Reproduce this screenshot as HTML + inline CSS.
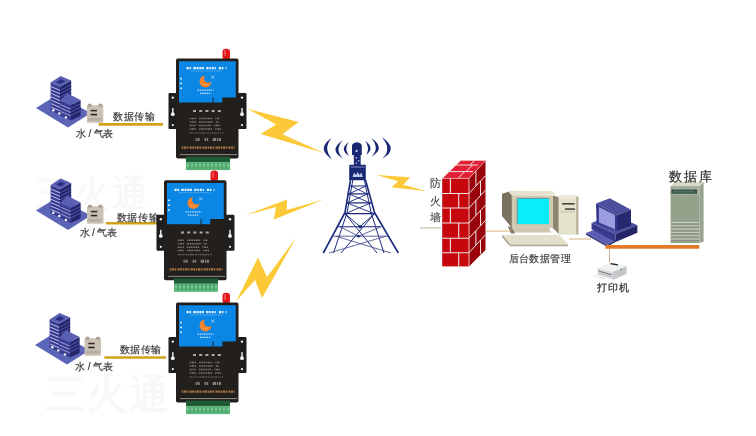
<!DOCTYPE html>
<html><head><meta charset="utf-8">
<style>
html,body{margin:0;padding:0;background:#fff;width:756px;height:436px;overflow:hidden}
svg{display:block;position:absolute;left:0;top:0;filter:blur(0.3px)}
.t{font-family:"Liberation Sans",sans-serif;fill:#3a3a3a}
.s{font-family:"Liberation Serif",serif;fill:#222}
</style></head><body>
<svg width="756" height="436" viewBox="0 0 756 436">
<defs>
  <g id="router">
    <rect x="46.5" y="-9.8" width="7.5" height="11" rx="3.3" fill="#e3161c"/>
    <rect x="48" y="-8.5" width="2" height="6" rx="1" fill="#ff7070" opacity="0.6"/>
    <rect x="-7.5" y="34.5" width="10" height="36" rx="1.2" fill="#1e1e1e"/>
    <rect x="60.5" y="34.5" width="10" height="36" rx="1.2" fill="#1e1e1e"/>
    <g fill="#f4f4f4">
      <circle cx="-3.2" cy="39" r="1.2"/>
      <rect x="-3.9" y="49.5" width="1.4" height="5"/>
      <circle cx="-3.2" cy="55.6" r="1.9"/>
      <circle cx="-3.2" cy="66.5" r="1.1"/>
      <circle cx="66" cy="39" r="1.2"/>
      <rect x="65.3" y="49.5" width="1.4" height="5"/>
      <circle cx="66" cy="55.6" r="1.9"/>
      <circle cx="66" cy="66.5" r="1.1"/>
    </g>
    <rect x="0" y="0" width="62.5" height="100" rx="1.8" fill="#221f1c"/>
    <path d="M3,2.7 H59.8 V38.8 H46.3 V44 H37.6 V39 H36.6 V44 H3 Z" fill="#0a86e4"/>
    <g stroke="#e8f4ff" fill="none">
      <path d="M10.5,9.6 H50.5" stroke-width="2.2" stroke-dasharray="2.2,0.8,1.6,2.2,2.5,0.7,2,0.8,2.2,0.6,1.8,2.4,2.2,0.8,1.6,0.9,2,0.8,1.2,3"/>
      <path d="M15,12.4 H46" stroke-width="0.7" stroke-dasharray="1.5,0.8" opacity="0.6"/>
      <path d="M21.5,31.6 H37.5" stroke-width="1.3" stroke-dasharray="1.4,0.8" opacity="0.85"/>
      <path d="M24,34.8 H35" stroke-width="1.3" stroke-dasharray="1.4,0.8" opacity="0.85"/>
    </g>
    <circle cx="29.5" cy="22.8" r="6" fill="#f5822a"/>
    <circle cx="32.6" cy="19.6" r="4.5" fill="#0a86e4"/>
    <path d="M25,24 q3,4 7,1" stroke="#f9b070" stroke-width="0.8" fill="none" opacity="0.8"/>
    <path d="M35,17 l3.5,3 M38.5,17 l-3.5,3" stroke="#cfe6ff" stroke-width="0.6"/>
    <rect x="4.2" y="19.2" width="1.6" height="1.6" fill="#fff"/>
    <rect x="4.2" y="24" width="1.6" height="1.6" fill="#fff"/>
    <rect x="4.2" y="28.9" width="1.6" height="1.6" fill="#fff"/>
    <g stroke="#e6e6e6" fill="none">
      <path d="M17,52.3 H46" stroke-width="2" stroke-dasharray="3,3.2" opacity="0.7"/>
      <path d="M13.7,60 H44" stroke-width="1.5" stroke-dasharray="1.2,0.6,2.5,0.6,1.5,3,1.2,0.6,2,0.6,1.5,0.8" opacity="0.42"/>
      <path d="M13.7,63.4 H43" stroke-width="1.5" stroke-dasharray="1.2,0.6,2.5,0.6,1.5,3,1.8,0.6,2,0.6,1.5,0.8" opacity="0.42"/>
      <path d="M13.7,66.9 H44" stroke-width="1.5" stroke-dasharray="2,0.6,1.2,0.6,1.5,3,1.2,0.6,2,0.6,1.5,0.8" opacity="0.42"/>
      <path d="M13.7,70.3 H45" stroke-width="1.5" stroke-dasharray="1.2,0.6,2.5,0.6,1.5,3,1.2,0.6,2,0.6,1.5,0.8" opacity="0.42"/>
      <path d="M13.7,74.4 H48" stroke-width="1.2" stroke-dasharray="3,0.6,1.2,0.6,1.5,1,1.2,0.6,2,0.6" opacity="0.35"/>
      <path d="M19.5,81 H45" stroke-width="3" stroke-dasharray="1.2,0.7,2.2,5,1.5,0.6,1.5,4.5,3.5,0.8" opacity="0.5"/>
    </g>
    <path d="M5.7,89 H58.6" stroke="#c0844a" stroke-width="2.2" stroke-dasharray="1.5,0.6,2.5,0.6,1.4,1.2,2.2,0.5,1.8,0.7" opacity="0.85"/>
    <rect x="4" y="95.6" width="57" height="0.9" fill="#9a9a9a"/>
    <rect x="10" y="98" width="44" height="5.5" fill="#1f5a36"/>
    <rect x="10" y="103.5" width="44" height="8" fill="#5db77a"/>
    <path d="M14,104v7 M18,104v7 M22,104v7 M26,104v7 M30,104v7 M34,104v7 M38,104v7 M42,104v7 M46,104v7 M50,104v7" stroke="#3c8a58" stroke-width="0.7"/>
    <path d="M11,106.5 H53" stroke="#c8f0d8" stroke-width="0.8" stroke-dasharray="2,2" opacity="0.8"/>
  </g>
  <g id="bld">
    <polygon points="36,108 57,95 87,111 87,115.5 68,127.5" fill="#5c64b8"/>
    <!-- tall tower -->
    <polygon points="50.6,82.6 60,86.6 60,115 50.6,110.6" fill="#383c90"/>
    <polygon points="60,86.6 71.2,80.6 71.2,95 60,101" fill="#23266c"/>
    <polygon points="50.6,82.6 60.6,76 71.2,80.6 60,86.6" fill="#5a60b4"/>
    <polygon points="56,82.2 60.7,79 65.5,81.2 60.7,84" fill="#2c3080"/>
    <path d="M51,86.6 L60,90.4 M51,90 L60,93.8 M51,93.4 L60,97.2 M51,96.8 L60,100.6 M51,100.2 L60,104 M51,103.6 L60,107.4 M51,107 L60,110.8" stroke="#cdd0f2" stroke-width="0.9"/>
    <path d="M60.3,90.3 L71,84.6 M60.3,93.7 L71,88 M60.3,97.1 L71,91.4" stroke="#5d62b0" stroke-width="0.8"/>
    <!-- lower block -->
    <polygon points="60,100.6 70.6,105.3 70.6,120.5 60,115.5" fill="#3a3e92"/>
    <polygon points="70.6,105.3 80.6,100 80.6,116 70.6,120.5" fill="#23266c"/>
    <polygon points="60,100.6 67.3,93.3 80.6,100 70.6,105.3" fill="#5a60b4"/>
    <path d="M60.5,104.6 L70.5,109 M60.5,108 L70.5,112.4 M60.5,111.4 L70.5,115.8" stroke="#b4b8e8" stroke-width="0.8"/>
    <path d="M71,108.6 L80.3,103.7 M71,112 L80.3,107.1 M71,115.4 L80.3,110.5" stroke="#5d62b0" stroke-width="0.8"/>
    <circle cx="53.3" cy="110.3" r="1.2" fill="#fff"/>
    <circle cx="59.3" cy="113.4" r="1.2" fill="#fff"/>
    <circle cx="65.9" cy="117.4" r="1.2" fill="#fff"/>
  </g>
  <g id="meter">
    <rect x="0" y="1.5" width="16.5" height="17.5" rx="1" fill="#cbc2b4"/>
    <rect x="1" y="0" width="4" height="3" rx="1.2" fill="#a9a196"/>
    <rect x="11.5" y="0" width="4" height="3" rx="1.2" fill="#a9a196"/>
    <rect x="3.8" y="6" width="6.4" height="1.6" fill="#3a2c2a"/>
    <rect x="3.8" y="10" width="6.4" height="1.6" fill="#2a2424"/>
    <rect x="1.5" y="14" width="13" height="3" fill="#b6ada2"/>
  </g>
</defs>

<!-- faint watermark -->
<g font-family="Liberation Sans, sans-serif" font-weight="bold" fill="#f8f8f8">
  <text x="36" y="206" font-size="36" letter-spacing="2">三火通</text>
  <text x="45" y="408" font-size="40" letter-spacing="2">三火通</text>
</g>

<!-- buildings -->
<use href="#bld"/>
<use href="#bld" transform="translate(0,102.5)"/>
<use href="#bld" transform="translate(-1,237)"/>

<!-- meters -->
<use href="#meter" transform="translate(86.8,103.8)"/>
<use href="#meter" transform="translate(87,204.8)"/>
<use href="#meter" transform="translate(84.5,336.7)"/>

<!-- data lines -->
<g stroke="#d4a018" stroke-width="2.6">
  <line x1="98.6" y1="124.4" x2="163" y2="124.4"/>
  <line x1="105.9" y1="223.2" x2="160" y2="223.2"/>
  <line x1="104.4" y1="357.5" x2="166" y2="357.5"/>
</g>

<g class="t" font-size="10" font-weight="400" fill="#3a3a3a" stroke="#3a3a3a" stroke-width="0.18">
  <text x="112.9" y="119.8" letter-spacing="0.8">数据传输</text>
  <text x="116.6" y="220.5" letter-spacing="0.8">数据传输</text>
  <text x="119.6" y="353" letter-spacing="0.6">数据传输</text>
  <text x="76" y="137" letter-spacing="-0.2">水 / 气表</text>
  <text x="79.7" y="235.5" letter-spacing="-0.2">水 / 气表</text>
  <text x="75.3" y="369.7" letter-spacing="-0.2">水 / 气表</text>
</g>

<!-- routers -->
<use href="#router" transform="translate(176,58.6)"/>
<use href="#router" transform="translate(164,180.3)"/>
<use href="#router" transform="translate(176,302.6)"/>

<!-- bolts -->
<g fill="#fcc938">
  <polygon points="247.5,108.8 298.6,122 282.5,134.2 324,153 260.6,134 276,124.6"/>
  <polygon points="244.7,215.3 287.1,199.6 286.6,210 323.8,199.6 273.8,219.4 276.1,207.1"/>
  <polygon points="236,301.5 258,257.5 267,277 296,238 262,298 255,280"/>
  <polygon points="376.5,175 410.1,177.3 403.3,184.7 427,191.2 391.4,187.2 398.2,181.3"/>
</g>

<!-- tower -->
<g fill="#172574">
  <path d="M331.7,138.1 Q315.5,148.8 332.4,159.5 Q322.35,148.8 331.7,138.1 Z"/>
  <path d="M342.7,140.2 Q328.15,150.3 343,158.4 Q334.15,150.3 342.7,140.2 Z"/>
  <path d="M348.6,142.3 Q338.85,149.05 348.9,156 Q343.85,149.05 348.6,142.3 Z"/>
  <path d="M365.3,140.9 Q375.15,147.8 366.4,154.7 Q370.15,147.8 365.3,140.9 Z"/>
  <path d="M371.2,138.1 Q386.25,148.2 371.5,156.7 Q380.25,148.2 371.2,138.1 Z"/>
  <path d="M381.5,137.1 Q399.6,149.25 382.5,158.4 Q392.6,149.25 381.5,137.1 Z"/>
</g>
<g stroke="#1c2a7c" fill="none" stroke-linejoin="round">
  <path d="M350.5,180 L345,212.5 L323.3,253" stroke-width="1.6"/>
  <path d="M365.5,180 L374.5,212.5 L398.3,253" stroke-width="1.6"/>
  <path d="M352.8,180 L347.1,212.5 L333.5,253" stroke-width="1"/>
  <path d="M364.4,180 L371,212.5 L384,253" stroke-width="1"/>
  <path d="M349,186 H367 M347.5,193.9 H369 M346,202.9 H371.5 M344.5,213.6 H375 M338,226.7 H381" stroke-width="1.1"/>
  <path d="M333,236.2 H388" stroke-width="0.8" stroke="#3a4488"/>
  <path d="M351,186 L367,193.9 M366,186 L349,193.9 M349,193.9 L370,202.9 M368,193.9 L347,202.9 M347,202.9 L374,213.6 M371,202.9 L345.5,213.6" stroke-width="0.9"/>
  <path d="M345,213.6 L377,253 M374.5,213.6 L341,253 M345,213.6 L360,226.7 L374.5,213.6" stroke-width="1"/>
  <path d="M340,226.7 L358.5,236.2 L381,226.7 M336,236.2 L391,253 M386,236.2 L329,253" stroke-width="0.8" stroke="#3a4488"/>
</g>
<g fill="#1a2874">
  <path d="M352,146 Q352,142.8 356.9,142.3 Q361.8,142.8 361.8,146 V154.9 H352 Z"/>
  <rect x="353.8" y="154.5" width="6.9" height="10.5"/>
  <rect x="349.2" y="164.7" width="16.6" height="15.5" rx="1"/>
  <circle cx="360.2" cy="226.7" r="1.8"/>
  <circle cx="358.5" cy="236.2" r="1.3"/>
</g>
<g fill="#c8d0f0">
  <circle cx="356.6" cy="150.9" r="1.1"/>
  <rect x="355.5" y="157" width="1.5" height="1.5" opacity="0.8"/>
  <rect x="357.8" y="160" width="1.5" height="1.5" opacity="0.8"/>
  <rect x="355.5" y="162.5" width="1.5" height="1.5" opacity="0.8"/>
  <rect x="350.5" y="166.5" width="14" height="1" opacity="0.6"/>
  <path d="M352.5,177 l1.5,-4.5 l2,2.5 l1.7,-3 l1.7,3 l2,-2.5 l1.5,4.5 Z" opacity="0.95"/>
</g>

<!-- firewall -->
<g>
  <polygon points="442.2,178.4 469,178.4 485.5,160.5 460.8,160.5" fill="#e21f35"/>
  <polygon points="469,178.4 485.5,160.5 485.5,249.9 469,266.4" fill="#98040a"/>
  <rect x="442.2" y="178.4" width="26.8" height="88" fill="#c6080e"/>
  <g stroke="#ece4e2" stroke-width="1.1" fill="none">
    <path d="M442.2,193.5 H469 M442.2,208.0 H469 M442.2,223.0 H469 M442.2,238.2 H469 M442.2,252.7 H469 M450.4,178.4 V193.5 M458.7,193.5 V208.0 M450.4,208.0 V223.0 M458.7,223.0 V238.2 M450.4,238.2 V252.7 M458.7,252.7 V266.4 "/>
    <path d="M469,193.5 L485.5,175.6 M469,208.0 L485.5,190.1 M469,223.0 L485.5,205.1 M469,238.2 L485.5,220.3 M469,252.7 L485.5,234.8 M475.9,170.9 V186.0 M480.5,181.0 V195.5 M475.9,200.5 V215.5 M480.5,210.5 V225.7 M475.9,230.7 V245.2 M480.5,240.2 V253.9 " stroke-width="1"/>
    <path d="M448.5,171.6 L473,171.6 M455,165 L478,165 M458,178.4 L464.5,171.6 M466,171.6 L472.5,165 M470,165 L474.5,160.5" stroke-width="1"/>
    <path d="M469,178.4 V266.4" stroke="#f4d0d0" stroke-width="0.9"/>
    <path d="M442.2,178.4 L460.8,160.5 H485.5 L469,178.4 H442.2" stroke="#f0c8c8" stroke-width="0.7"/>
  </g>
</g>
<g class="t" font-size="10" font-weight="400" fill="#444" stroke="#444" stroke-width="0.12">
  <text x="429.6" y="186.6" font-size="10.6">防</text>
  <text x="429.6" y="205.2" font-size="10.6">火</text>
  <text x="429.6" y="221" font-size="10.6">墙</text>
</g>
<line x1="420" y1="227.9" x2="441" y2="227.9" stroke="#b8a890" stroke-width="0.9"/>

<!-- orange thin line from firewall to computer -->
<line x1="486" y1="231.1" x2="512" y2="231.1" stroke="#dcb47a" stroke-width="1"/>

<!-- computer 1 -->
<g>
  <polygon points="502,193.8 511.9,190.8 511.9,227.9 502,216" fill="#7a7260"/>
  <polygon points="507.4,190.8 552,191 556,194.5 511.9,195.4" fill="#e6e1cf"/>
  <polygon points="552.8,195.4 558.8,197 558.8,234 552.8,227.9" fill="#8f846f"/>
  <rect x="511.9" y="195.4" width="40.9" height="32.5" fill="#d0c8b0"/>
  <rect x="517.2" y="198.4" width="31.8" height="25.7" fill="#08eef8"/>
  <path d="M517.2,224.1 V198.4 H549" stroke="#6a8a90" stroke-width="0.9" fill="none"/>
  <polygon points="514,227.9 549,227.9 551,232.4 512,232.4" fill="#cdc5ad"/>
  <polygon points="507.8,226.3 512,227 515,233.5 511,233.5" fill="#8a7f6c"/>
  <rect x="558.8" y="195.4" width="17.4" height="39.3" fill="#e4e4cc"/>
  <rect x="558.8" y="195.4" width="17.4" height="3.6" fill="#ece7d8"/>
  <rect x="576.2" y="196.5" width="2.2" height="38" fill="#b3ab95"/>
  <rect x="562" y="203" width="12.5" height="1.6" fill="#4a463e"/>
  <rect x="565" y="208.3" width="10" height="1.6" fill="#4a463e"/>
  <rect x="561" y="211.5" width="14" height="0.8" fill="#b9b29e"/>
  <polygon points="502.2,235.1 559.4,235 568.1,244.5 510.2,244.5" fill="#e4dfcb"/>
  <polygon points="510.2,244.5 568.1,244.5 568.1,246.3 510.2,246.3" fill="#b2aa94"/>
  <polygon points="502.2,235.1 510.2,244.5 510.2,246.3 502.2,237" fill="#978e78"/>
</g>
<line x1="568.9" y1="239" x2="591" y2="239" stroke="#d6b078" stroke-width="1"/>
<text class="t" x="508.6" y="262" font-size="10" font-weight="400" letter-spacing="0.45" fill="#3a3a3a" stroke="#3a3a3a" stroke-width="0.15">后台数据管理</text>

<!-- computer 2 -->
<g>
  <polygon points="586,233 595,229.5 616,240 607,245" fill="#5b5eb2"/>
  <polygon points="586,233 607,245 607,246.8 586,234.8" fill="#2f3179"/>
  <polygon points="607,245 616,240 616,241.8 607,246.8" fill="#2a2c70"/>
  <polygon points="591.5,223 613,214 637.4,225.3 615.6,233.9" fill="#4b4ea0"/>
  <polygon points="591.5,223 615.6,233.9 615.6,241.9 591.5,229.3" fill="#3a3d8e"/>
  <polygon points="615.6,233.9 637.4,225.3 637.4,232.7 615.6,241.9" fill="#252768"/>
  <path d="M593,226.5 L614,236" stroke="#2a2c70" stroke-width="0.7"/>
  <polygon points="596,203.5 609.8,198.3 631,209.8 617.2,215" fill="#4c4f9e"/>
  <polygon points="596,203.5 617.2,215 617.3,230.4 596.6,223.5" fill="#33368a"/>
  <polygon points="598.9,206.9 615,214.9 615,229.3 598.9,222.4" fill="#9c9de0"/>
  <polygon points="617.2,215 631,209.8 631,225.8 617.3,230.4" fill="#262870"/>
</g>
<!-- thick orange line -->
<line x1="605.5" y1="246.9" x2="699.3" y2="246.9" stroke="#e27a28" stroke-width="3.6"/>
<line x1="609.5" y1="249" x2="609.5" y2="262.5" stroke="#c9a274" stroke-width="0.9"/>

<!-- printer -->
<g>
  <polygon points="597.5,268 611,262.2 626.5,266 613,272" fill="#f0f1f3"/>
  <polygon points="597.5,268 613,272 613,279.8 597.5,275" fill="#dcdde0"/>
  <polygon points="613,272 626.5,266 626.5,274 613,279.8" fill="#c5c7ca"/>
  <polygon points="611,262.9 618.2,264.2 617.5,265.6 610.2,264.3" fill="#222"/>
  <path d="M598.5,271 L612,275" stroke="#555" stroke-width="0.8"/>
  <path d="M598.5,273 L612,277" stroke="#a0a0a0" stroke-width="0.6"/>
  <rect x="620.5" y="269" width="1.5" height="1.2" fill="#3a9a6a"/>
  <polygon points="594,275 606,278.5 604,279.5 593,276" fill="#e8e8ea"/>
</g>
<text class="t" x="597" y="290.5" font-size="10" font-weight="400" letter-spacing="1.2" fill="#1a1a1a" stroke="#1a1a1a" stroke-width="0.22">打印机</text>

<!-- server -->
<g>
  <polygon points="670.6,186.2 699.4,186.2 703.6,182.1 674.7,182.1" fill="#d8dacb"/>
  <polygon points="699.4,186.2 703.6,182.1 703.6,241.5 699.4,243.1" fill="#98a48e"/>
  <rect x="670.6" y="186.2" width="28.8" height="56.9" fill="#93a28a"/>
  <rect x="670.6" y="186.2" width="28.8" height="9" fill="#a4b09c"/>
  <rect x="671.4" y="189.5" width="25.6" height="4.2" fill="#2f4a3a"/>
  <rect x="673" y="190.5" width="22" height="2.2" fill="#4f7060"/>
  <path d="M671,222.5H699 M671,225.8H699 M671,229.1H699 M671,232.4H699 M671,235.7H699 M671,239H699" stroke="#cdd1c4" stroke-width="1"/>
  <path d="M671,224H699 M671,227.3H699 M671,230.6H699 M671,233.9H699 M671,237.2H699 M671,240.5H699" stroke="#858d7d" stroke-width="0.8"/>
</g>
<text class="t" x="668.7" y="181" font-size="12.5" font-weight="400" letter-spacing="2.2" fill="#1a1a1a" stroke="#1a1a1a" stroke-width="0.2">数据库</text>

</svg>
</body></html>
